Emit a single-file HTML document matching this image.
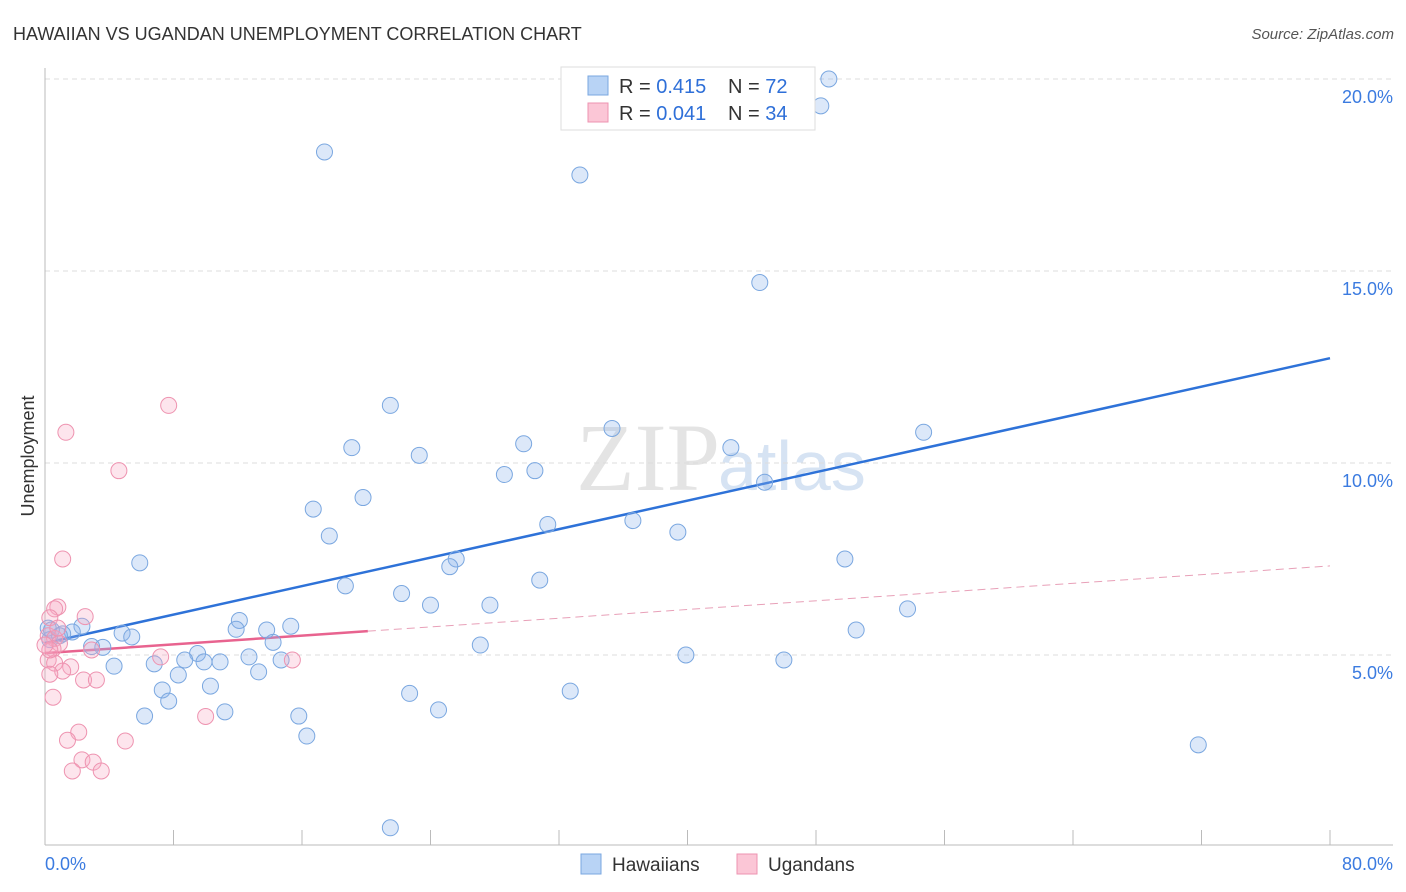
<!DOCTYPE html>
<html><head><meta charset="utf-8"><style>
body{margin:0;background:#fff;font-family:"Liberation Sans",sans-serif;}
svg{display:block}
</style></head><body>
<svg id="chart" width="1406" height="892" xmlns="http://www.w3.org/2000/svg">
<text x="13" y="40" font-size="18" fill="#333">HAWAIIAN VS UGANDAN UNEMPLOYMENT CORRELATION CHART</text>
<text x="1394" y="39" font-size="15" fill="#555" font-style="italic" text-anchor="end">Source: ZipAtlas.com</text>
<text x="720" y="490" font-size="96" fill="#e4e4e4" text-anchor="end" font-family="Liberation Serif">ZIP</text>
<text x="718" y="490" font-size="70" fill="#d6e3f3">atlas</text>
<g id="grid"></g><g id="axes"></g><g id="trend"></g><g id="pts"></g>
<text x="34" y="456" font-size="18" fill="#333" text-anchor="middle" transform="rotate(-90 34 456)">Unemployment</text>
<g>
<rect x="561" y="67" width="254" height="63" fill="#fff" stroke="#ddd"/>
<rect x="588" y="76" width="20" height="19" fill="#b8d3f5" stroke="#7aa7e0"/>
<rect x="588" y="103" width="20" height="19" fill="#fbc6d6" stroke="#ee93b0"/>
<text x="619" y="93" font-size="20" fill="#333">R = <tspan fill="#2e6fd8">0.415</tspan></text>
<text x="728" y="93" font-size="20" fill="#333">N = <tspan fill="#2e6fd8">72</tspan></text>
<text x="619" y="120" font-size="20" fill="#333">R = <tspan fill="#2e6fd8">0.041</tspan></text>
<text x="728" y="120" font-size="20" fill="#333">N = <tspan fill="#2e6fd8">34</tspan></text>
</g>
<g>
<rect x="581" y="854" width="20" height="20" fill="#b8d3f5" stroke="#7aa7e0"/>
<text x="612" y="871" font-size="19" fill="#333">Hawaiians</text>
<rect x="737" y="854" width="20" height="20" fill="#fbc6d6" stroke="#ee93b0"/>
<text x="768" y="871" font-size="19" fill="#333">Ugandans</text>
</g>
</svg>
<script>
const yTicks=[5,10,15,20];
const xTickLabels=["0.0%","80.0%"];
const blueTrend=[5.31,12.73];
const pinkTrend=[5.05,7.32];
const pinkSolidEnd=20.1;
const blueX=[48.8,48.3,17.4,33.3,44.5,21.5,35.3,19.1,29.8,42.7,23.3,54.7,28.6,30.5,44.8,19.8,16.7,17.7,31.3,36.6,39.4,5.9,25.6,25.2,49.8,18.7,30.8,22.2,24.0,27.7,53.7,12.1,11.9,13.8,15.3,2.3,1.7,4.8,5.4,0.4,1.1,0.3,2.9,3.6,14.2,27.1,50.5,9.5,8.7,6.8,4.3,9.9,10.9,12.7,14.7,13.3,8.3,39.9,46.0,7.3,7.7,10.3,22.7,32.7,6.2,11.2,15.8,24.5,16.3,71.8,21.5,0.9,0.2];
const blueY=[20.0,19.3,18.1,17.5,14.7,11.5,10.9,10.4,10.5,10.4,10.2,10.8,9.7,9.8,9.5,9.1,8.8,8.1,8.4,8.5,8.2,7.4,7.5,7.3,7.5,6.8,6.95,6.6,6.3,6.3,6.2,5.9,5.67,5.65,5.75,5.75,5.6,5.57,5.47,5.65,5.55,5.4,5.22,5.2,5.33,5.26,5.65,5.04,4.87,4.77,4.71,4.82,4.82,4.95,4.87,4.56,4.48,5.0,4.87,4.09,3.8,4.19,4.0,4.06,3.41,3.52,3.41,3.57,2.89,2.66,0.5,5.5,5.7];
const pinkX=[1.3,7.7,4.6,1.1,0.8,0.6,2.5,0.3,0.2,0.6,0.9,0.5,2.9,7.2,15.4,0.2,0.6,1.6,1.1,0.3,2.4,3.2,0.5,10.0,2.1,1.4,5.0,2.3,3.0,1.7,3.5,0.8,0.3,0.0];
const pinkY=[10.8,11.5,9.8,7.5,6.25,6.2,6.0,5.97,5.5,5.43,5.3,5.16,5.13,4.95,4.87,4.87,4.79,4.69,4.58,4.5,4.35,4.35,3.9,3.4,2.99,2.78,2.76,2.27,2.21,1.98,1.98,5.7,5.13,5.26];
const NS="http://www.w3.org/2000/svg";
const X0=45,X1=1330;
const sx=v=>X0+v/80*(X1-X0);
const sy=v=>847-v*38.4;
function mk(tag,attrs,parent){const e=document.createElementNS(NS,tag);for(const k in attrs)e.setAttribute(k,attrs[k]);document.getElementById(parent).appendChild(e);return e;}
yTicks.forEach(t=>{
  const l=mk('line',{x1:45,x2:1393,y1:sy(t),y2:sy(t),stroke:'#ddd','stroke-dasharray':'5,4'},'grid');
  
  
  const tx=mk('text',{x:1393,y:sy(t)+24,'font-size':18,fill:'#3b7be0','text-anchor':'end'},'grid');
  tx.textContent=t.toFixed(1)+'%';
  
  
});
const ax=mk('line',{x1:45,x2:1393,y1:845,y2:845,stroke:'#bbb'},'axes');


const ay=mk('line',{x1:45,x2:45,y1:68,y2:845,stroke:'#bbb'},'axes');


for(let v=0;v<=80;v+=8){
  const t=mk('line',{x1:sx(v),x2:sx(v),y1:830,y2:845,stroke:'#bbb'},'axes');
  
  
}
[[0,'start',45],[80,'end',1393]].forEach((a,i)=>{
  const t=mk('text',{x:a[2],y:870,'font-size':18,fill:'#3b7be0','text-anchor':a[1]},'axes');
  t.textContent=xTickLabels[i];
  
  
});
function pts(xs,ys,fill,stroke,name){
  xs.forEach((x,i)=>{
    const c=mk('circle',{cx:sx(x),cy:sy(ys[i]),r:8,fill:fill,stroke:stroke,'stroke-width':1},'pts');
    
    
  });
}
pts(blueX,blueY,'rgba(140,180,235,0.3)','#7aa7e0','point-hawaiian');
pts(pinkX,pinkY,'rgba(248,170,195,0.3)','#ee93b0','point-ugandan');
const bl=mk('line',{x1:sx(0),y1:sy(blueTrend[0]),x2:sx(80),y2:sy(blueTrend[1]),stroke:'#2e72d8','stroke-width':2.5},'trend');


const pm=v=>pinkTrend[0]+(pinkTrend[1]-pinkTrend[0])*v/80;
const pl=mk('line',{x1:sx(0),y1:sy(pinkTrend[0]),x2:sx(pinkSolidEnd),y2:sy(pm(pinkSolidEnd)),stroke:'#e8638f','stroke-width':2.5},'trend');


const pd=mk('line',{x1:sx(pinkSolidEnd),y1:sy(pm(pinkSolidEnd)),x2:sx(80),y2:sy(pinkTrend[1]),stroke:'#e8a0b8','stroke-width':1,'stroke-dasharray':'8,5'},'trend');


</script>
</body></html>
